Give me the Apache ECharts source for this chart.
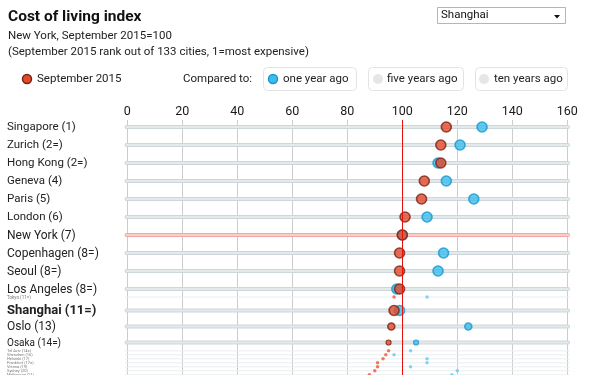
<!DOCTYPE html>
<html><head><meta charset="utf-8">
<script src="https://cdn.jsdelivr.net/npm/echarts@6/dist/echarts.min.js"></script>
<style>html,body{margin:0;padding:0;background:#fff}#c{width:589px;height:375px}</style>
</head><body><div id="c"></div>
<script>
// ---- data ----
const cities = ['Singapore (1)','Zurich (2=)','Hong Kong (2=)','Geneva (4)','Paris (5)','London (6)','New York (7)','Copenhagen (8=)','Seoul (8=)','Los Angeles (8=)','Tokyo (11=)','Shanghai (11=)','Oslo (13)','Osaka (14=)','Tel Aviv (14=)','Shenzhen (16)','Helsinki (17)','Frankfurt (17=)','Vienna (19)','Sydney (20)','Melbourne (21)'];
const sep2015    = [116,114,114,108,107,101,100,99,99,99,97,97,96,95,95,94,93,91,91,90,88];
const oneYearAgo = [129,121,113,116,126,109,100,115,113,98,109,99,124,105,103,97,109,109,103,120,118];
const xTickMin = 0, xTickMax = 160, xTickStep = 20;

// ---- layout (fisheye row spacing, sizes) ----
const rowGap    = [7,18,18,18,18,18,18,18,18,18,8,13.5,16,16,8.3,4,4,4,4,4,4];
const rowKind   = ['big','big','big','big','big','big','big','big','big','big','tiny','big','big','big','tiny','tiny','tiny','tiny','tiny','tiny','tiny'];
const dotSize   = [10,10,10,10,10,10,10,10,10,10,3.5,10,7,5,3.5,3.5,3.5,3.5,3.5,3.5,3.5];
const labelSize = [11.5,11.5,11.5,11.5,11.5,11.5,12,12,12,12,4.5,13,12,10,4,4,4,4,4,4,4];
const highlight = 'Shanghai (11=)';
const baseCity = 'New York (7)';

const rowY = [];
rowGap.reduce((acc, g, i) => { rowY[i] = acc + g; return acc + g; }, 0);

const FONT = 'Roboto, "Noto Sans", sans-serif';

function dotData(values, fill, stroke, smallFill) {
  return values.map((v, i) => {
    const big = dotSize[i] >= 5;
    return {
      value: [v, rowY[i]],
      symbolSize: dotSize[i],
      itemStyle: big ? { color: fill, borderColor: stroke, borderWidth: dotSize[i] > 6 ? 1.6 : 1.2 }
                     : { color: smallFill, borderWidth: 0 }
    };
  });
}

const chart = echarts.init(document.getElementById('c'), null, { renderer: 'canvas' });
chart.setOption({
  animation: false,
  backgroundColor: '#fff',
  textStyle: { fontFamily: FONT },
  grid: { left: 127.3, right: 21.7, top: 120, bottom: 0, containLabel: false },
  xAxis: {
    type: 'value', position: 'top', min: xTickMin, max: xTickMax, interval: xTickStep,
    axisLine: { show: false }, axisTick: { show: false },
    axisLabel: { color: '#1a1a1a', fontSize: 12.5, margin: 2, fontFamily: FONT },
    splitLine: { show: true, lineStyle: { color: '#cccccc', width: 1 } }
  },
  yAxis: { type: 'value', inverse: true, min: 0, max: 255, show: false, splitLine: { show: false } },
  series: [
    {
      type: 'custom', z: 1, silent: true, clip: false,
      data: cities.map((c, i) => [i, rowY[i]]),
      encode: { x: -1, y: 1 },
      renderItem: function (params, api) {
        const i = api.value(0);
        const y = api.value(1);
        const p0 = api.coord([xTickMin - 0.8, y]);
        const p1 = api.coord([xTickMax + 0.8, y]);
        const children = [];
        const name = cities[i];
        if (rowKind[i] === 'big') {
          const isBase = name === baseCity;
          children.push({
            type: 'rect',
            shape: { x: p0[0], y: p0[1] - 1.5, width: p1[0] - p0[0], height: 3, r: 1 },
            style: { fill: isBase ? '#f9cfcb' : '#e4eaec', stroke: isBase ? '#f2a7a1' : '#cdd6d9', lineWidth: 1 }
          });
        } else {
          children.push({
            type: 'line',
            shape: { x1: p0[0], y1: p0[1], x2: p1[0], y2: p1[1] },
            style: { stroke: '#e9eef0', lineWidth: 1 }
          });
        }
        children.push({
          type: 'text',
          style: {
            text: name, x: 7, y: p0[1] + 0.5,
            verticalAlign: 'middle', align: 'left',
            fontSize: labelSize[i], fontFamily: FONT,
            fontWeight: name === highlight ? 'bold' : 'normal',
            fill: rowKind[i] === 'tiny' ? '#777' : '#222'
          }
        });
        return { type: 'group', children: children };
      }
    },
    {
      type: 'scatter', z: 2, silent: true, data: [],
      markLine: {
        silent: true, symbol: 'none', label: { show: false },
        lineStyle: { color: '#e3120b', width: 1, type: 'solid' },
        data: [{ xAxis: 100 }]
      }
    },
    {
      name: 'one year ago', type: 'scatter', z: 3, silent: true,
      data: dotData(oneYearAgo, '#3dbdea', '#1597d3', '#62cbf0')
    },
    {
      name: 'September 2015', type: 'scatter', z: 4, silent: true,
      data: dotData(sep2015, '#e5492d', '#752612', '#ec573b')
    }
  ],
  graphic: [
    { type: 'text', left: 8, top: 9, style: { text: 'Cost of living index', fontSize: 15.5, fontWeight: 'bold', fill: '#111', fontFamily: FONT } },
    { type: 'text', left: 8, top: 30, style: { text: 'New York, September 2015=100', fontSize: 11.5, fill: '#222', fontFamily: FONT } },
    { type: 'text', left: 8, top: 46, style: { text: '(September 2015 rank out of 133 cities, 1=most expensive)', fontSize: 11.5, fill: '#222', fontFamily: FONT } },
    // dropdown
    { type: 'rect', shape: { x: 437.5, y: 7.5, width: 128, height: 16 }, style: { fill: '#fff', stroke: '#b5b5b5', lineWidth: 1 } },
    { type: 'text', left: 441, top: 9.5, style: { text: 'Shanghai', fontSize: 11.5, fill: '#111', fontFamily: FONT } },
    { type: 'polygon', shape: { points: [[554, 15], [560, 15], [557, 18.5]] }, style: { fill: '#111' } },
    // legend
    { type: 'circle', shape: { cx: 27, cy: 79, r: 4.5 }, style: { fill: '#e5492d', stroke: '#752612', lineWidth: 1.5 } },
    { type: 'text', left: 37, top: 73, style: { text: 'September 2015', fontSize: 11.5, fill: '#222', fontFamily: FONT } },
    { type: 'text', left: 183, top: 73, style: { text: 'Compared to:', fontSize: 11.5, fill: '#222', fontFamily: FONT } },
    { type: 'rect', shape: { x: 263.5, y: 67.5, width: 93, height: 23, r: 4 }, style: { fill: '#fff', stroke: '#e3e3e3', lineWidth: 1 } },
    { type: 'circle', shape: { cx: 273, cy: 79, r: 4.5 }, style: { fill: '#3dbdea', stroke: '#1597d3', lineWidth: 1.5 } },
    { type: 'text', left: 283, top: 73, style: { text: 'one year ago', fontSize: 11.5, fill: '#222', fontFamily: FONT } },
    { type: 'rect', shape: { x: 368.5, y: 67.5, width: 95, height: 23, r: 4 }, style: { fill: '#fff', stroke: '#e3e3e3', lineWidth: 1 } },
    { type: 'circle', shape: { cx: 378, cy: 79, r: 5 }, style: { fill: '#e6e6e6' } },
    { type: 'text', left: 387, top: 73, style: { text: 'five years ago', fontSize: 11.5, fill: '#222', fontFamily: FONT } },
    { type: 'rect', shape: { x: 475.5, y: 67.5, width: 92, height: 23, r: 4 }, style: { fill: '#fff', stroke: '#e3e3e3', lineWidth: 1 } },
    { type: 'circle', shape: { cx: 484, cy: 79, r: 5 }, style: { fill: '#e6e6e6' } },
    { type: 'text', left: 494, top: 73, style: { text: 'ten years ago', fontSize: 11.5, fill: '#222', fontFamily: FONT } }
  ]
});
</script>
</body></html>
